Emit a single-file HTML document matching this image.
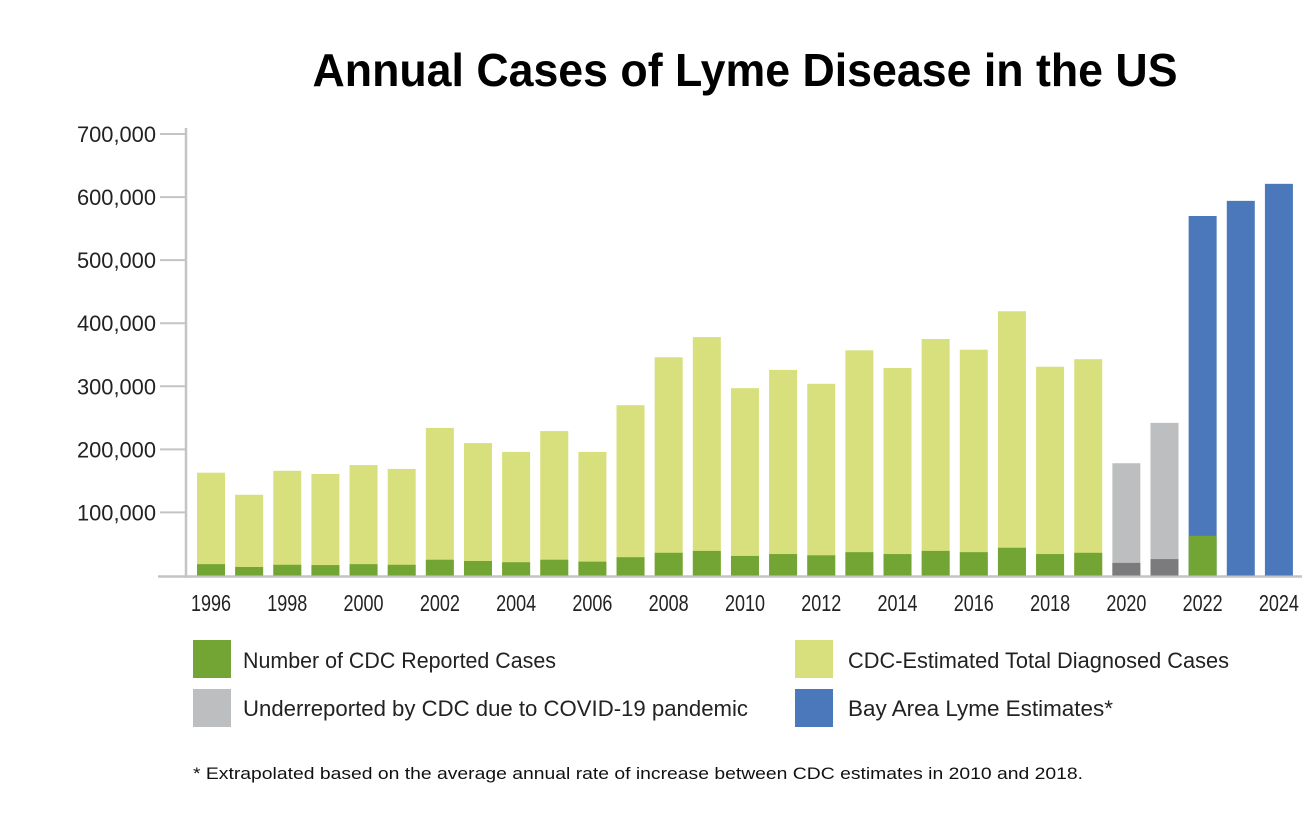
<!DOCTYPE html>
<html><head><meta charset="utf-8"><style>
html,body{margin:0;padding:0;background:#fff;}
svg{display:block;font-family:"Liberation Sans",sans-serif;}
</style></head><body>
<svg id="chart" width="1316" height="818" viewBox="0 0 1316 818">
<text x="745" y="86" text-anchor="middle" font-size="46" font-weight="bold" textLength="865" lengthAdjust="spacingAndGlyphs" fill="#000">Annual Cases of Lyme Disease in the US</text>
<g id="axes"></g>
<g id="bars"></g>
<g>
<rect x="193" y="640" width="38" height="38" fill="#73a534"/>
<text x="243" y="668" font-size="22" textLength="313" lengthAdjust="spacingAndGlyphs" fill="#222">Number of CDC Reported Cases</text>
<rect x="193" y="689" width="38" height="38" fill="#bdbec0"/>
<text x="243" y="716" font-size="22" textLength="505" lengthAdjust="spacingAndGlyphs" fill="#222">Underreported by CDC due to COVID-19 pandemic</text>
<rect x="795" y="640" width="38" height="38" fill="#d7e07d"/>
<text x="848" y="668" font-size="22" textLength="381" lengthAdjust="spacingAndGlyphs" fill="#222">CDC-Estimated Total Diagnosed Cases</text>
<rect x="795" y="689" width="38" height="38" fill="#4a78bb"/>
<text x="848" y="716" font-size="22" textLength="265" lengthAdjust="spacingAndGlyphs" fill="#222">Bay Area Lyme Estimates*</text>
</g>
<text x="193" y="779" font-size="17" textLength="890" lengthAdjust="spacingAndGlyphs" fill="#111">* Extrapolated based on the average annual rate of increase between CDC estimates in 2010 and 2018.</text>
</svg>
<script>
const years = [1996,1997,1998,1999,2000,2001,2002,2003,2004,2005,2006,2007,2008,2009,2010,2011,2012,2013,2014,2015,2016,2017,2018,2019,2020,2021,2022,2023,2024];
// total (estimated / underreported / bay area) in thousands
const totals = [163,128,166,161,175,169,234,210,196,229,196,270,346,378,297,326,304,357,329,375,358,419,331,343,178,242,570,594,621];
// CDC reported cases (thousands), null where none
const reported = [18,13.5,17,16.5,18,17,25,23,21,25,22,29,36,39,31,34,32,37,34,39,37,44,34,36,20,26,63,null,null];
// category per year: est, covid, bay
const kinds = ["est","est","est","est","est","est","est","est","est","est","est","est","est","est","est","est","est","est","est","est","est","est","est","est","covid","covid","bay","bay","bay"];
const yTicks = [100,200,300,400,500,600,700];
const yTickLabels = ["100,000","200,000","300,000","400,000","500,000","600,000","700,000"];

const NS="http://www.w3.org/2000/svg";
const y0=575.5, pxPerK=0.6307;
const y = v => y0 - v*pxPerK;
const x = i => 197 + i*38.14;
const bw = 28;
const axes=document.getElementById('axes'), bars=document.getElementById('bars');
function mk(tag, attrs, parent){const e=document.createElementNS(NS,tag);for(const k in attrs)e.setAttribute(k,attrs[k]);parent.appendChild(e);return e;}

yTicks.forEach((t,i)=>{
  const ln=mk('line',{x1:160,x2:186,y1:y(t),y2:y(t),stroke:'#c4c4c4','stroke-width':2},axes);
  
  
  const tx=mk('text',{x:156,y:y(t)+8,'text-anchor':'end','font-size':22,textLength:79,lengthAdjust:'spacingAndGlyphs',fill:'#222'},axes);
  tx.textContent=yTickLabels[i];
  
  
});
const ya=mk('line',{x1:186,x2:186,y1:128,y2:578,stroke:'#c4c4c4','stroke-width':2.5},axes);



const colors={est:'#d7e07d',covid:'#bdbec0',bay:'#4a78bb'};
const lowColors={est:'#73a534',covid:'#7b7b7d',bay:'#73a534'};
years.forEach((yr,i)=>{
  const r=mk('rect',{x:x(i),y:y(totals[i]),width:bw,height:y0-y(totals[i]),fill:colors[kinds[i]]},bars);
  
  
  if(reported[i]!=null){
    const g=mk('rect',{x:x(i),y:y(reported[i]),width:bw,height:y0-y(reported[i]),fill:lowColors[kinds[i]]},bars);
    
    
  }
  if(yr%2===0){
    const t=mk('text',{x:x(i)+bw/2,y:611,'text-anchor':'middle','font-size':23,textLength:40,lengthAdjust:'spacingAndGlyphs',fill:'#222'},axes);
    t.textContent=yr;
    
    
  }
});
const xa=mk('line',{x1:158,x2:1302,y1:576.5,y2:576.5,stroke:'#c4c4c4','stroke-width':2.5},axes);


</script>
</body></html>
